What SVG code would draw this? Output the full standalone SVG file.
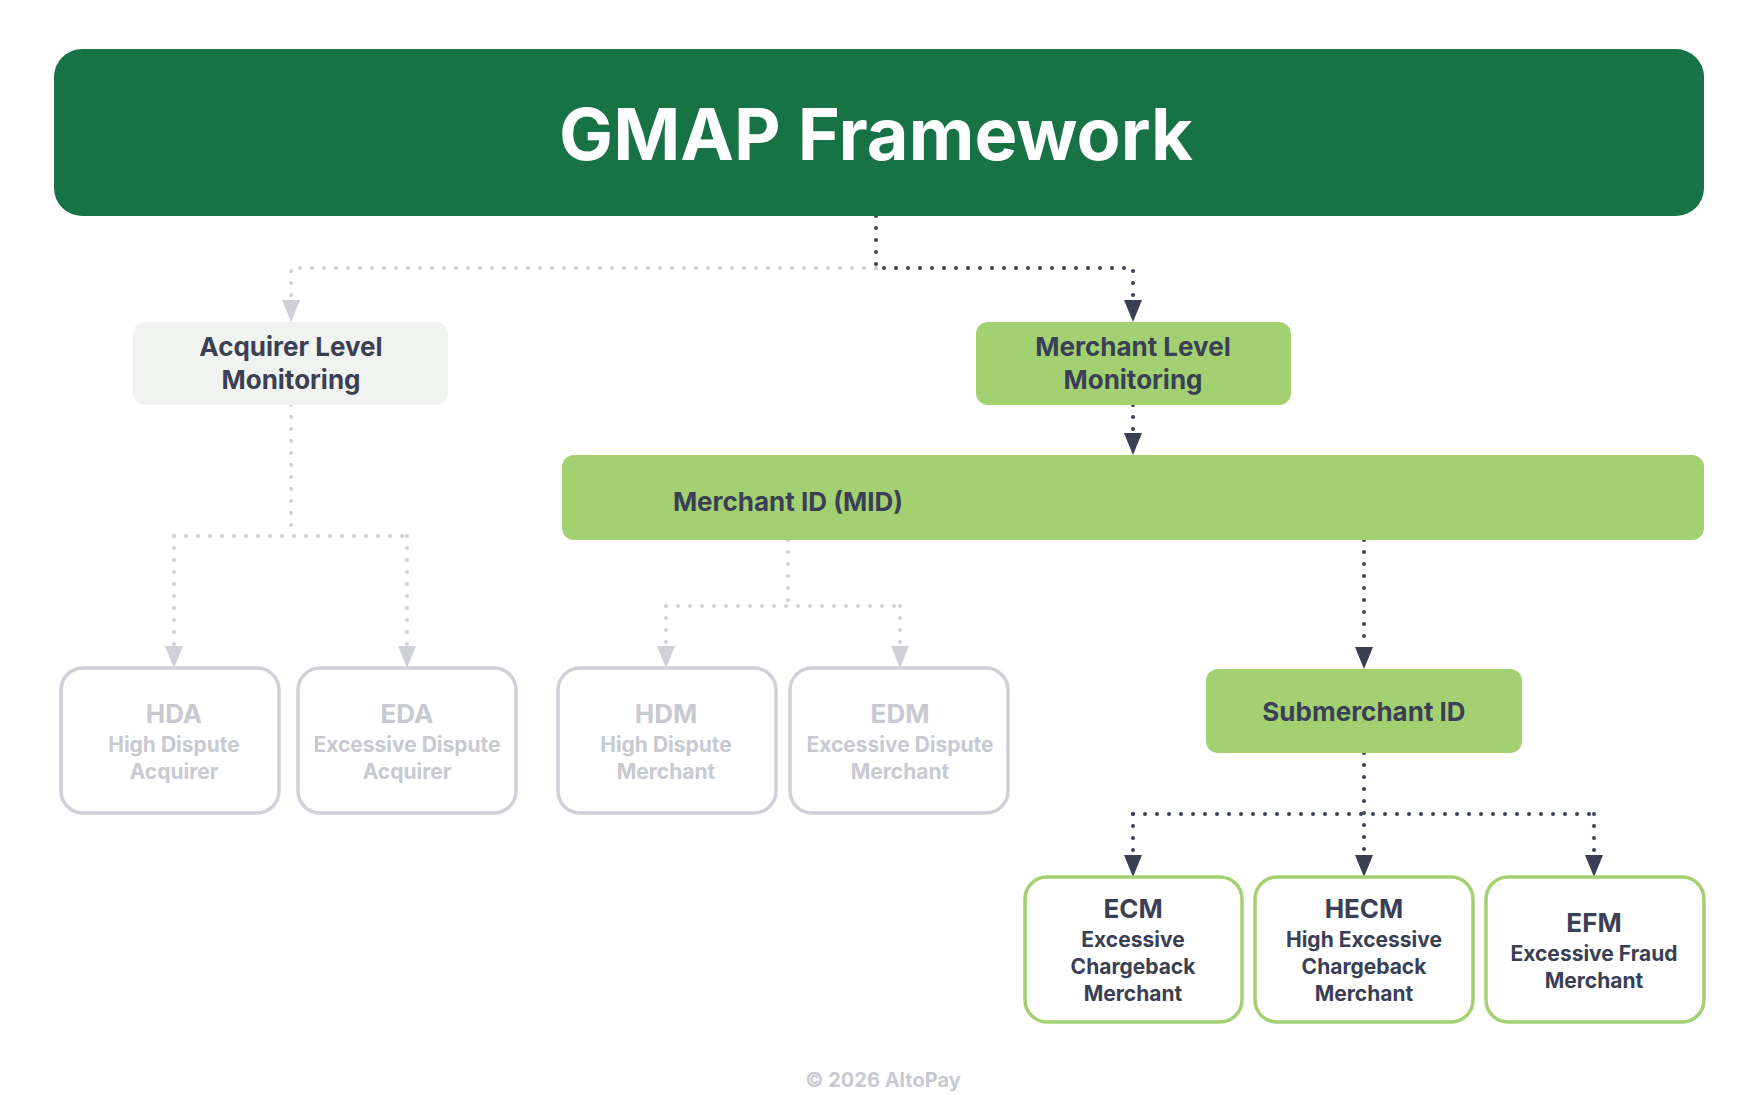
<svg xmlns="http://www.w3.org/2000/svg" width="1761" height="1095" viewBox="0 0 1761 1095">
<defs>
<marker id="ad" viewBox="0 0 10 10" refX="5" refY="10" markerWidth="18" markerHeight="22" orient="auto" markerUnits="userSpaceOnUse" preserveAspectRatio="none"><path d="M0,0 L10,0 L5,10 Z" fill="#3a3f55"/></marker>
<marker id="ag" viewBox="0 0 10 10" refX="5" refY="10" markerWidth="18" markerHeight="22" orient="auto" markerUnits="userSpaceOnUse" preserveAspectRatio="none"><path d="M0,0 L10,0 L5,10 Z" fill="#cfd0d8"/></marker>
<style>
text{font-family:Inter,"Liberation Sans",sans-serif;font-weight:700;text-anchor:middle}
.d{fill:none;stroke:#3a3f55;stroke-width:4;stroke-linecap:round;stroke-dasharray:0 12}
.g{fill:none;stroke:#cfd0d8;stroke-width:4;stroke-linecap:round;stroke-dasharray:0 12}
.gb{fill:#fff;stroke:#cfd0d8;stroke-width:3.5}
.grb{fill:#fff;stroke:#a3d171;stroke-width:3.5}
.gt{fill:#c8c9d1;font-size:21px}
.gT{fill:#c8c9d1;font-size:26px}
.dt{fill:#3a3f55;font-size:21px}
.dT{fill:#3a3f55;font-size:26px}
.lab{fill:#3a3f55;font-size:26px}
</style>
</defs>
<rect width="1761" height="1095" fill="#fff"/>
<g id="connectors">
<path class="g" d="M876,268 H291 V300"/>
<path class="d" d="M876,216 V268 H1133 V300"/>
<path class="d" d="M1133,405 V433"/>
<path class="g" d="M291,405 V536"/>
<path class="g" d="M174,536 H407"/>
<path class="g" d="M174,536 V646"/>
<path class="g" d="M407,536 V646"/>
<path class="g" d="M788,540 V606 M666,606 H900"/>
<path class="g" d="M666,606 V646"/>
<path class="g" d="M900,606 V646"/>
<path class="d" d="M1364,540 V647"/>
<path class="d" d="M1364,753 V855"/>
<path class="d" d="M1133,814 H1594"/>
<path class="d" d="M1133,814 V855"/>
<path class="d" d="M1594,814 V855"/>
<g fill="#cfd0d8"><path d="M282,300 H300 L291,322 Z"/><path d="M165,646 H183 L174,668 Z"/><path d="M398,646 H416 L407,668 Z"/><path d="M657,646 H675 L666,668 Z"/><path d="M891,646 H909 L900,668 Z"/></g>
<g fill="#3a3f55"><path d="M1124,300 H1142 L1133,322 Z"/><path d="M1124,433 H1142 L1133,455 Z"/><path d="M1355,647 H1373 L1364,669 Z"/><path d="M1124,855 H1142 L1133,877 Z"/><path d="M1355,855 H1373 L1364,877 Z"/><path d="M1585,855 H1603 L1594,877 Z"/></g>
</g>
<g id="header"><rect x="54" y="49" width="1650" height="167" rx="28" fill="#177245"/><text x="876" y="160" fill="#fff" font-size="72">GMAP Framework</text></g>
<g id="acquirer"><rect x="133" y="322" width="315" height="83" rx="12" fill="#f1f3f1"/><text class="lab" x="291" y="356">Acquirer Level</text><text class="lab" x="291" y="389">Monitoring</text></g>
<g id="merchant"><rect x="976" y="322" width="315" height="83" rx="12" fill="#a3d171"/><text class="lab" x="1133" y="356">Merchant Level</text><text class="lab" x="1133" y="389">Monitoring</text></g>
<g id="mid"><rect x="562" y="455" width="1142" height="85" rx="12" fill="#a3d171"/><text class="lab" x="788" y="511">Merchant ID (MID)</text></g>
<g id="sub"><rect x="1206" y="669" width="316" height="84" rx="12" fill="#a3d171"/><text class="lab" x="1364" y="721">Submerchant ID</text></g>
<g id="hda"><rect class="gb" x="61" y="668" width="218" height="145" rx="22"/><text class="gT" x="174" y="723">HDA</text><text class="gt" x="174" y="752">High Dispute</text><text class="gt" x="174" y="779">Acquirer</text></g>
<g id="eda"><rect class="gb" x="298" y="668" width="218" height="145" rx="22"/><text class="gT" x="407" y="723">EDA</text><text class="gt" x="407" y="752">Excessive Dispute</text><text class="gt" x="407" y="779">Acquirer</text></g>
<g id="hdm"><rect class="gb" x="558" y="668" width="218" height="145" rx="22"/><text class="gT" x="666" y="723">HDM</text><text class="gt" x="666" y="752">High Dispute</text><text class="gt" x="666" y="779">Merchant</text></g>
<g id="edm"><rect class="gb" x="790" y="668" width="218" height="145" rx="22"/><text class="gT" x="900" y="723">EDM</text><text class="gt" x="900" y="752">Excessive Dispute</text><text class="gt" x="900" y="779">Merchant</text></g>
<g id="ecm"><rect class="grb" x="1025" y="877" width="217" height="145" rx="22"/><text class="dT" x="1133" y="918">ECM</text><text class="dt" x="1133" y="947">Excessive</text><text class="dt" x="1133" y="974">Chargeback</text><text class="dt" x="1133" y="1001">Merchant</text></g>
<g id="hecm"><rect class="grb" x="1255" y="877" width="218" height="145" rx="22"/><text class="dT" x="1364" y="918">HECM</text><text class="dt" x="1364" y="947">High Excessive</text><text class="dt" x="1364" y="974">Chargeback</text><text class="dt" x="1364" y="1001">Merchant</text></g>
<g id="efm"><rect class="grb" x="1486" y="877" width="218" height="145" rx="22"/><text class="dT" x="1594" y="932">EFM</text><text class="dt" x="1594" y="961">Excessive Fraud</text><text class="dt" x="1594" y="988">Merchant</text></g>
<text x="883" y="1087" fill="#c8c9d1" font-size="20">© 2026 AltoPay</text>
</svg>
